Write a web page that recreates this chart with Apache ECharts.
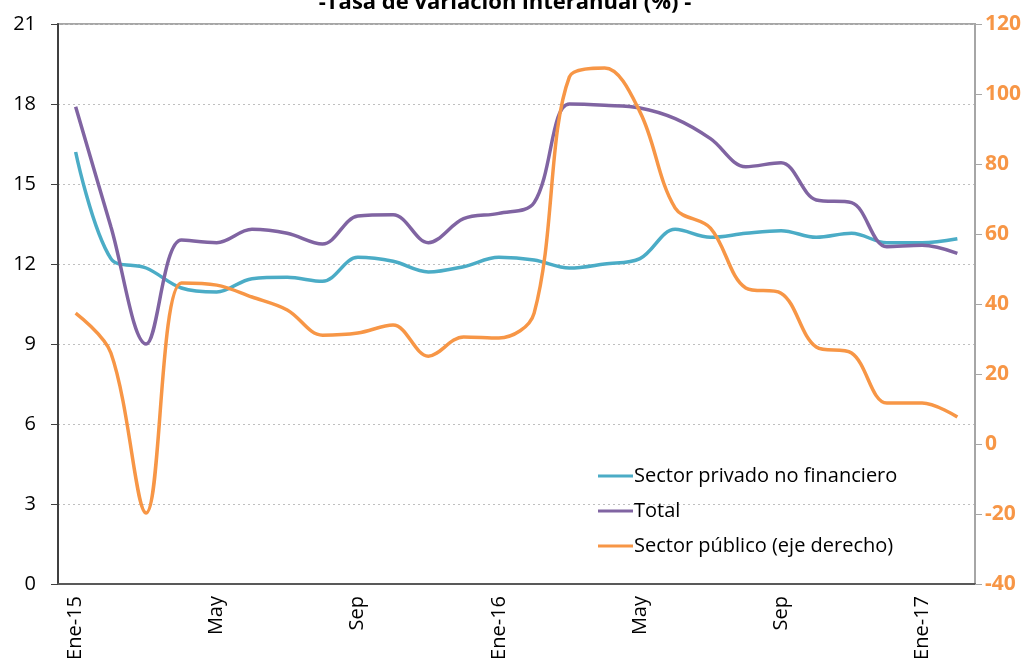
<!DOCTYPE html>
<html>
<head>
<meta charset="utf-8">
<script src="https://cdn.jsdelivr.net/npm/echarts@6/dist/echarts.min.js"></script>
<style>
  html, body { margin: 0; padding: 0; background: #fff; }
  #chart { width: 1036px; height: 665px; }
</style>
</head>
<body>
<div id="chart"></div>
<script>
// meses Ene-15 .. Feb-17
const months = ['Ene-15', 'Feb', 'Mar', 'Abr', 'May', 'Jun', 'Jul', 'Ago', 'Sep', 'Oct', 'Nov', 'Dic',
  'Ene-16', 'Feb', 'Mar', 'Abr', 'May', 'Jun', 'Jul', 'Ago', 'Sep', 'Oct', 'Nov', 'Dic',
  'Ene-17', 'Feb']
const privado = [16.2, 12.2, 11.85, 11.1, 10.95, 11.45, 11.5, 11.35, 12.25, 12.1, 11.7, 11.9,
  12.25, 12.15, 11.85, 12.0, 12.2, 13.3, 13.0, 13.15, 13.25, 13.0, 13.15, 12.8, 12.8, 12.95]
const total = [17.9, 13.4, 9.0, 12.9, 12.8, 13.3, 13.15, 12.75, 13.8, 13.85, 12.8, 13.7,
  13.9, 14.3, 18.0, 17.95, 17.85, 17.45, 16.7, 15.65, 15.8, 14.4, 14.3, 12.65, 12.7, 12.4]
const publico = [37.4, 26, -19.7, 46, 45.4, 42, 38.3, 31.1, 31.7, 34, 25.1, 30.6,
  30.3, 37.4, 104.9, 107.4, 94.9, 67.4, 61.7, 44.6, 43.1, 27.7, 26, 11.7, 11.7, 7.7]

const FONT = '"Open Sans", Lato, sans-serif'
const chart = echarts.init(document.getElementById('chart'))

const option = {
  animation: false,
  textStyle: { fontFamily: FONT },
  title: {
    text: '-Tasa de variación interanual (%) -',
    left: 500,
    textAlign: 'center',
    top: -13,
    textStyle: { fontSize: 22, fontWeight: 'bold', color: '#000', fontFamily: FONT }
  },
  grid: {
    left: 58, right: 61, top: 24, bottom: 81,
    show: true, borderColor: '#a6a6a6', borderWidth: 2
  },
  legend: {
    orient: 'vertical',
    left: 593, top: 461,
    itemWidth: 35, itemHeight: 3, itemGap: 15,
    icon: 'rect',
    textStyle: { fontSize: 20, color: '#000', padding: [0, 0, 0, -4] },
    data: ['Sector privado no financiero', 'Total', 'Sector público (eje derecho)']
  },
  xAxis: {
    type: 'category',
    data: months,
    boundaryGap: true,
    axisLine: { lineStyle: { color: '#595959', width: 2 } },
    axisTick: { interval: 0, length: 6, lineStyle: { color: '#595959' } },
    axisLabel: { interval: 3, rotate: 90, fontSize: 20, color: '#000', margin: 12 },
    splitLine: { show: false }
  },
  yAxis: [
    {
      type: 'value', min: 0, max: 21, interval: 3,
      axisLine: { show: true, lineStyle: { color: '#404040', width: 2 } },
      axisTick: { show: true, length: 7, lineStyle: { color: '#404040' } },
      axisLabel: { fontSize: 20, color: '#000', margin: 22 },
      splitLine: { lineStyle: { color: '#bfbfbf', type: [2, 3], width: 1 } }
    },
    {
      type: 'value', min: -40, max: 120, interval: 20,
      axisLine: { show: true, lineStyle: { color: '#a6a6a6', width: 2 } },
      axisTick: { show: true, length: 7, lineStyle: { color: '#a6a6a6' } },
      axisLabel: { fontSize: 21, fontWeight: 'bold', color: '#f79646', margin: 10 },
      splitLine: { show: false }
    }
  ],
  series: [
    {
      name: 'Sector privado no financiero', type: 'line', data: privado,
      yAxisIndex: 0, smooth: 0.35, showSymbol: false,
      lineStyle: { color: '#4bacc6', width: 3.5 }, itemStyle: { color: '#4bacc6' }
    },
    {
      name: 'Total', type: 'line', data: total,
      yAxisIndex: 0, smooth: 0.35, showSymbol: false,
      lineStyle: { color: '#8064a2', width: 3.5 }, itemStyle: { color: '#8064a2' }
    },
    {
      name: 'Sector público (eje derecho)', type: 'line', data: publico,
      yAxisIndex: 1, smooth: 0.35, showSymbol: false,
      lineStyle: { color: '#f79646', width: 3.5 }, itemStyle: { color: '#f79646' }
    }
  ]
}
chart.setOption(option)
</script>
</body>
</html>
